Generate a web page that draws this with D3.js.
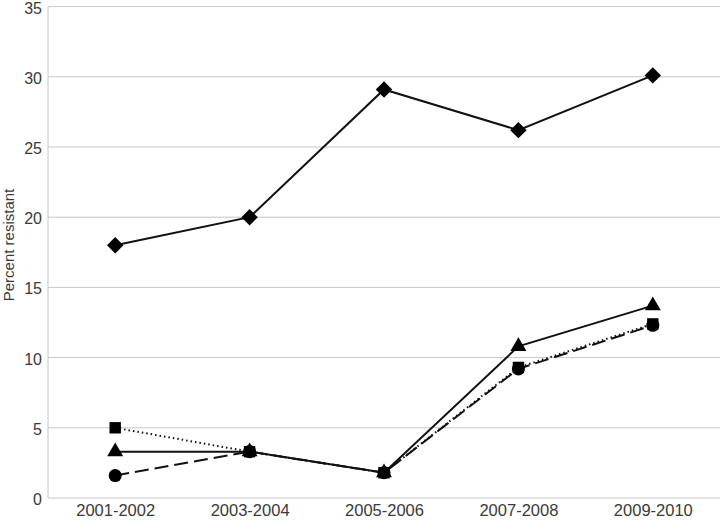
<!DOCTYPE html>
<html><head><meta charset="utf-8">
<script src="https://cdn.jsdelivr.net/npm/d3@7"></script>
<style>body{margin:0;background:#fff;} text{font-family:"Liberation Sans",Arial,sans-serif;}</style>
</head><body>
<svg id="c" width="720" height="521"></svg>
<script>
const categories = ["2001-2002","2003-2004","2005-2006","2007-2008","2009-2010"];
const yTicks = [0,5,10,15,20,25,30,35];
const diamondValues = [18.0,20.0,29.1,26.2,30.1];
const triangleValues = [3.3,3.3,1.8,10.8,13.7];
const squareValues = [5.0,3.3,1.8,9.3,12.4];
const circleValues = [1.6,3.3,1.8,9.2,12.3];

const series = [
  {values: squareValues, dash: "1.5,3", shape: d3.symbolSquare, size: 130, rot: 0},
  {values: circleValues, dash: "14,6", shape: d3.symbolCircle, size: 135, rot: 0},
  {values: triangleValues, dash: null, shape: d3.symbolTriangle, size: 110, rot: 0},
  {values: diamondValues, dash: null, shape: d3.symbolSquare, size: 135, rot: 45}
];

const svg = d3.select("#c");
const x = d3.scalePoint().domain(categories).range([48,720]).padding(0.5);
const y = d3.scaleLinear().domain([0,35]).range([498,6.6]);

svg.append("g").selectAll("line").data(yTicks).join("line")
  .attr("x1",48).attr("x2",720).attr("y1",d=>y(d)).attr("y2",d=>y(d))
  .attr("stroke","#c6c6c6").attr("stroke-width",1);
svg.append("line").attr("x1",48).attr("x2",48).attr("y1",y(35)).attr("y2",y(0))
  .attr("stroke","#c6c6c6");

const yAxis = d3.axisLeft(y).tickValues(yTicks).tickSize(0).tickPadding(6);
const gy = svg.append("g").attr("transform","translate(48,0)").call(yAxis);
gy.select(".domain").remove();
gy.selectAll("text").attr("font-size",16).attr("dy","0.4em").attr("fill","#3a3a3a").attr("font-family","Liberation Sans, Arial, sans-serif");

const xAxis = d3.axisBottom(x).tickSize(0).tickPadding(6);
const gx = svg.append("g").attr("transform","translate(0,498)").call(xAxis);
gx.select(".domain").remove();
gx.selectAll("text").attr("font-size",16.5).attr("fill","#3a3a3a").attr("font-family","Liberation Sans, Arial, sans-serif");

svg.append("text").attr("transform","translate(14,245) rotate(-90)")
  .attr("text-anchor","middle").attr("font-size",15).attr("fill","#3a3a3a").text("Percent resistant");

const line = d3.line().x((d,i)=>x(categories[i])).y(d=>y(d));
series.forEach(s=>{
  svg.append("path").datum(s.values).attr("d",line).attr("fill","none")
    .attr("stroke","#111").attr("stroke-width",2).attr("stroke-dasharray",s.dash);
});
series.forEach(s=>{
  svg.append("g").selectAll("path").data(s.values).join("path")
    .attr("transform",(d,i)=>`translate(${x(categories[i])},${y(d)}) rotate(${s.rot})`)
    .attr("d",d3.symbol().type(s.shape).size(s.size)).attr("fill","#000");
});
</script>
</body></html>
